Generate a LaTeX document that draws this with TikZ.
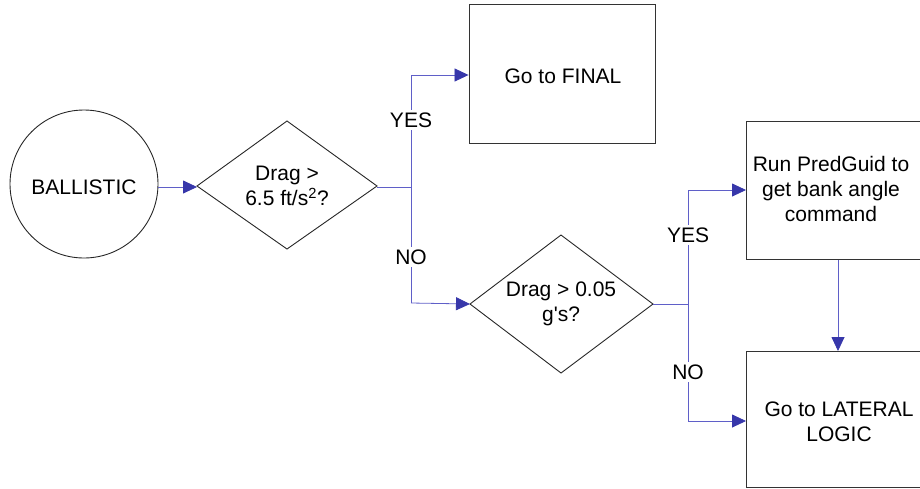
\documentclass[tikz,border=0pt]{standalone}
\usepackage{fontspec}
\setmainfont{Liberation Sans}
\usetikzlibrary{shapes.geometric,arrows.meta}
\definecolor{linkblue}{RGB}{95,95,200}
\definecolor{tipblue}{RGB}{55,55,170}
\tikzset{
  every node/.style={font=\fontsize{21}{25}\selectfont, inner sep=0pt},
  boxnode/.style={draw=black!80, line width=0.9pt, rectangle},
  link/.style={draw=linkblue, line width=0.8pt, -{Triangle[length=14pt,width=13pt,fill=tipblue,color=tipblue]}},
  plainlink/.style={draw=linkblue, line width=0.8pt},
  lbl/.style={fill=white, inner sep=3pt},
  txt/.style={align=center}
}
\begin{document}
\begin{tikzpicture}[x=1pt,y=-1pt]
\useasboundingbox (0,0) rectangle (920,488);
\clip (0,0) rectangle (920,488);
% shapes
\node[draw=black!85, line width=0.9pt, circle, minimum size=148pt] (ball) at (84,184) {};
\node (balltxt) at (84,187) {BALLISTIC};
\draw[draw=black!85, line width=0.9pt] (197,186) -- (287,121) -- (377,186) -- (287,249) -- cycle;
\coordinate (d1l) at (197,186);
\coordinate (d1r) at (377,186);
\node[txt] (d1txt) at (287,186) {Drag >\\6.5 ft/s\textsuperscript{2}?};
\draw[draw=black!85, line width=0.9pt] (470,304) -- (561,235) -- (653,304) -- (561,373) -- cycle;
\coordinate (d2l) at (470,304);
\coordinate (d2r) at (653,304);
\node[txt] (d2txt) at (561,304) {Drag > 0.05\\g\textquotesingle s?};
\node[boxnode, minimum width=186pt, minimum height=139pt] (final) at (562,73.5) {};
\node (finaltxt) at (563,76) {Go to FINAL};
\node[boxnode, anchor=north west, minimum width=200pt, minimum height=138pt] (pred) at (746,121) {};
\node[txt] (predtxt) at (831,189) {Run PredGuid to\\get bank angle\\command};
\node[boxnode, anchor=north west, minimum width=200pt, minimum height=136pt] (lat) at (746,351) {};
\node[txt] (lattxt) at (839,422) {Go to LATERAL\\LOGIC};
% junctions
\coordinate (j1) at (411,187);
\coordinate (j1t) at (411,75);
\coordinate (j1b) at (411,303);
\coordinate (j2) at (688,304);
\coordinate (j2t) at (688,190);
\coordinate (j2b) at (688,421);
% connectors
\draw[link] (ball.east |- 0,187) -- (d1l |- 0,187);
\draw[plainlink] (d1r |- 0,187) -- (j1);
\draw[plainlink] (j1t) -- (j1b);
\draw[link] (j1t) -- (final.west |- j1t);
\draw[link] (j1b) -- (d2l);
\draw[plainlink] (d2r) -- (j2);
\draw[plainlink] (j2t) -- (j2b);
\draw[link] (j2t) -- (pred.west |- j2t);
\draw[link] (j2b) -- (lat.west |- j2b);
\draw[link] (pred.south -| 838,0) -- (lat.north -| 838,0);
% labels
\node[lbl] (yes1) at (411,120) {YES};
\node[lbl] (no1) at (411,257) {NO};
\node[lbl] (yes2) at (688,235) {YES};
\node[lbl] (no2) at (688,372) {NO};
\end{tikzpicture}
\end{document}
